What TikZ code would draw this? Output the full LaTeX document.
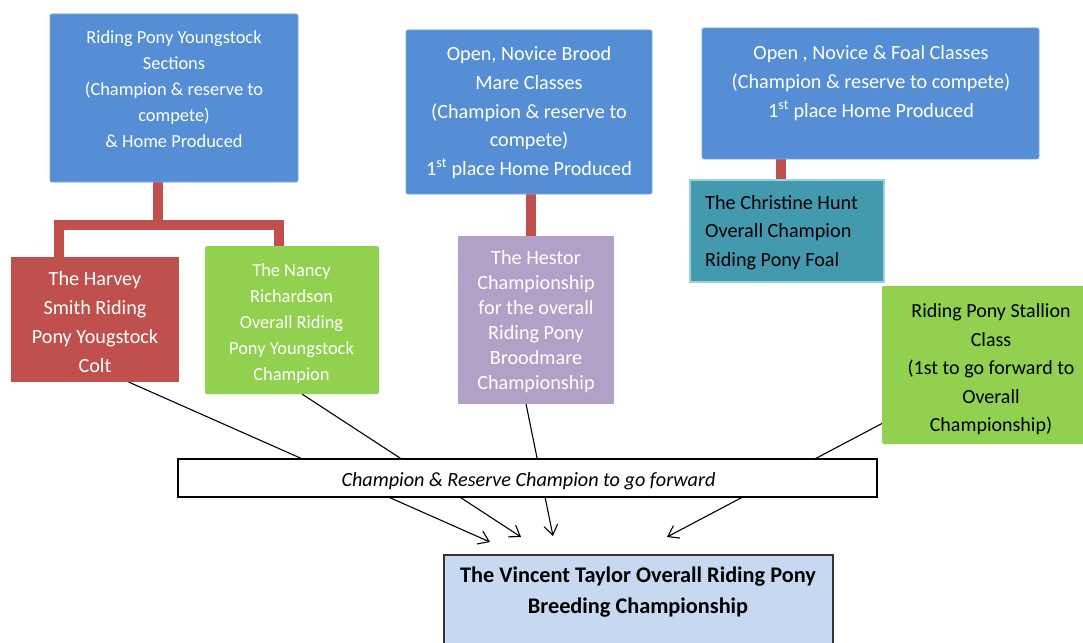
\documentclass[tikz,border=0pt]{standalone}
\usepackage{fontspec}
\setmainfont{Carlito}
\usetikzlibrary{arrows.meta,backgrounds,calc}
\definecolor{blueF}{HTML}{558ED5}
\definecolor{blueE}{HTML}{7FA9E0}
\definecolor{redF}{HTML}{C0504D}
\definecolor{greenF}{HTML}{92D050}
\definecolor{purpleF}{HTML}{B2A1C7}
\definecolor{tealF}{HTML}{4399AE}
\definecolor{tealE}{HTML}{9BD1E0}
\definecolor{finalF}{HTML}{C6D9F1}
\begin{document}
\begin{tikzpicture}[x=1pt,y=-1pt,
  box/.style={rectangle, inner sep=0pt, outer sep=0pt, anchor=north west},
  wtxt/.style={text=white, align=center, inner sep=0pt, anchor=north},
  btxt/.style={text=black, align=center, inner sep=0pt, anchor=north},
  fsA/.style={font=\fontsize{18.4}{26}\selectfont},
  fsB/.style={font=\fontsize{20.2}{28.6}\selectfont},
  redc/.style={draw=redF, line width=10pt},
  arr/.style={draw=black, line width=1.1pt, -{Straight Barb[length=10pt,width=14pt,line width=1.1pt]}},
  plain/.style={draw=black, line width=1.1pt}]
\useasboundingbox (0,0) rectangle (1083,642);
% title (only descenders visible)
\node[anchor=base west, inner sep=0pt, font=\fontsize{33}{40}\selectfont] (title) at (340,-5.5) {Riding Pony Championship};
% top boxes
\node[box, fill=blueF, draw=blueE, line width=0.8pt, rounded corners=2pt, minimum width=248pt, minimum height=168pt] (A) at (50,14) {};
\node[wtxt, fsA] (At) at (174,25) {\strut Riding Pony Youngstock\\Sections\\(Champion \& reserve to\\compete)\\\& Home Produced};
\node[box, fill=blueF, draw=blueE, line width=0.8pt, rounded corners=2pt, minimum width=246pt, minimum height=164pt] (B) at (406,30) {};
\node[wtxt, fsB] (Bt) at (529,40.7) {\strut Open, Novice Brood\\Mare Classes\\(Champion \& reserve to\\compete)\\1\textsuperscript{st} place Home Produced};
\node[box, fill=blueF, draw=blueE, line width=0.8pt, rounded corners=2pt, minimum width=337pt, minimum height=131pt] (C) at (702,28) {};
\node[wtxt, fsB] (Ct) at (871,39.7) {\strut Open , Novice \& Foal Classes\\(Champion \& reserve to compete)\\1\textsuperscript{st} place Home Produced};
% second row
\node[box, fill=redF, minimum width=168pt, minimum height=125pt] (Harvey) at (11,257) {};
\node[wtxt, font=\fontsize{20.2}{28.8}\selectfont] (Harveyt) at (95,265.5) {\strut The Harvey\\Smith Riding\\Pony Yougstock\\Colt};
\node[box, fill=greenF, rounded corners=2pt, minimum width=174pt, minimum height=148pt] (Nancy) at (205,246) {};
\node[wtxt, fsA] (Nancyt) at (291.5,258) {\strut The Nancy\\Richardson\\Overall Riding\\Pony Youngstock\\Champion};
\node[box, fill=purpleF, minimum width=156pt, minimum height=168pt] (Hestor) at (458,236) {};
\node[wtxt, font=\fontsize{20.2}{25}\selectfont] (Hestort) at (536,247.2) {\strut The Hestor\\Championship\\for the overall\\Riding Pony\\Broodmare\\Championship};
\node[box, fill=tealF, draw=tealE, line width=1.6pt, minimum width=194pt, minimum height=102pt] (Christine) at (690,180) {};
\node[btxt, fsB, align=left, anchor=north west] (Christinet) at (705,188.8) {\strut The Christine Hunt\\Overall Champion\\Riding Pony Foal};
\node[box, fill=greenF, rounded corners=2pt, minimum width=210pt, minimum height=158pt] (Stallion) at (882,286) {};
\node[btxt, font=\fontsize{20}{28.5}\selectfont] (Stalliont) at (991,297.7) {\strut Riding Pony Stallion\\Class\\(1st to go forward to\\Overall\\Championship)};
% band and final box
\node[box, fill=white, draw=black, line width=1.8pt, minimum width=699pt, minimum height=38pt] (band) at (178,459) {};
\node[anchor=base, inner sep=0pt, font=\fontsize{20.2}{24}\itshape] (bandt) at (528.5,486.5) {Champion \& Reserve Champion to go forward};
\node[box, fill=finalF, draw=black!80, line width=1.3pt, minimum width=389pt, minimum height=100pt] (final) at (444,555) {};
\node[btxt, font=\fontsize{22.3}{31}\bfseries] (finalt) at (638,561) {\strut The Vincent Taylor Overall Riding Pony\\Breeding Championship};
% connector points
\coordinate (aj) at ($(A.south west)!0.434!(A.south east)$);
\coordinate (j) at (aj |- 0,225);
\coordinate (hc) at ($(Harvey.north west)!0.286!(Harvey.north east)$);
\coordinate (nc) at ($(Nancy.north west)!0.425!(Nancy.north east)$);
\coordinate (bh) at ($(B.south west)!0.508!(B.south east)$);
\coordinate (ch) at ($(C.south west)!0.234!(C.south east)$);
\coordinate (s1) at ($(Harvey.south west)!0.7!(Harvey.south east)$);
\coordinate (s2) at ($(Nancy.south west)!0.557!(Nancy.south east)$);
\coordinate (s3) at ($(Hestor.south west)!0.436!(Hestor.south east)$);
\coordinate (s4) at ($(Stallion.south west)!0.13!(Stallion.north west)$);
\coordinate (t1) at (490,542);
\coordinate (t2) at (521,537);
\coordinate (t3) at (553,536);
\coordinate (t4) at (667,537);
\begin{scope}[on background layer]
  \draw[redc] (aj) -- (j);
  \draw[redc] (hc) |- (j) -| (nc);
  \draw[redc] (bh) -- (bh |- Hestor.north);
  \draw[redc] (ch) -- (ch |- Christine.north);
  \draw[arr] (s1) -- (t1);
  \draw[arr] (s2) -- (t2);
  \draw[arr] (s3) -- (t3);
  \draw[arr] (s4) -- (t4);
\end{scope}
\end{tikzpicture}
\end{document}
